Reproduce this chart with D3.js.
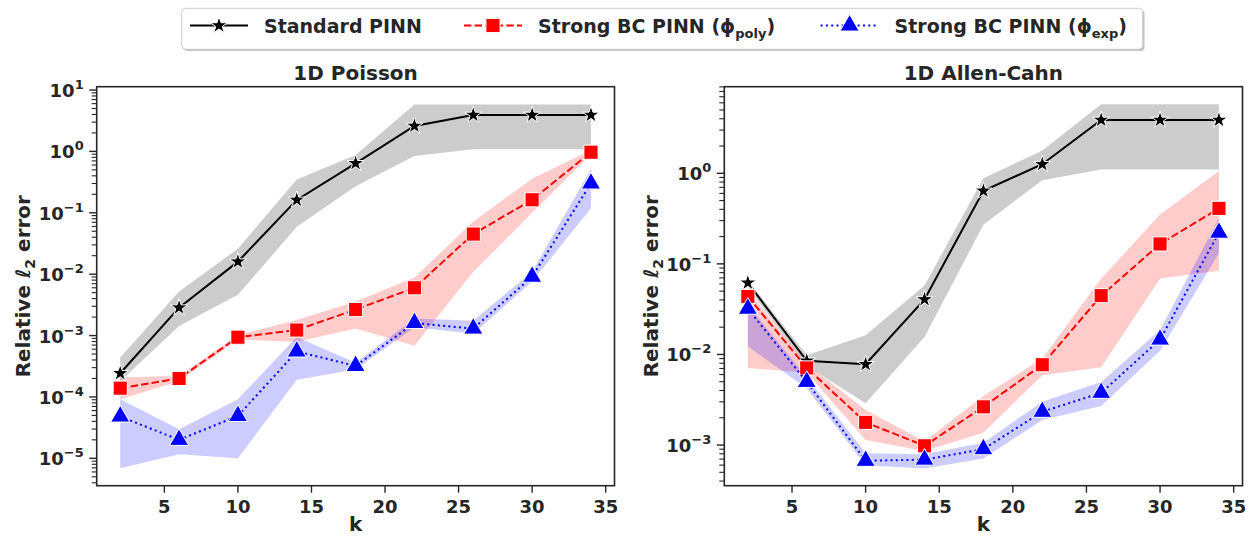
<!DOCTYPE html>
<html><head><meta charset="utf-8">
<script src="https://cdn.jsdelivr.net/npm/d3@7"></script>
<style>body{margin:0;background:#fff}svg{display:block}text{font-family:"DejaVu Sans";font-weight:bold;fill:#262626}</style>
</head><body><svg id="c" width="1249" height="537"></svg>
<script>
const k = [2,6,10,14,18,22,26,30,34];
const xTicks = [5,10,15,20,25,30,35];
const titles = ["1D Poisson","1D Allen-Cahn"];
const seriesNames = ["Standard PINN","Strong BC PINN (ϕ","Strong BC PINN (ϕ"];
const seriesSubs = ["","poly","exp"];

// 1D Poisson
const poisStd   = [2.43e-4, 2.85e-3, 0.016, 0.162, 0.64, 2.6, 3.92, 3.92, 3.92];
const poisStdLo = [1.8e-4, 1.43e-3, 4.6e-3, 0.059, 0.27, 0.84, 1.08, 1.08, 1.08];
const poisStdHi = [4.4e-4, 5.2e-3, 0.026, 0.35, 0.87, 5.8, 5.8, 5.8, 5.8];
const poisPoly   = [1.39e-4, 2.0e-4, 9.4e-4, 1.23e-3, 2.65e-3, 6.0e-3, 0.045, 0.163, 0.97];
const poisPolyLo = [9.2e-5, 1.8e-4, 8.6e-4, 7.9e-4, 1.3e-3, 6.8e-4, 0.011, 0.1, 0.9];
const poisPolyHi = [2.1e-4, 2.2e-4, 1.02e-3, 1.8e-3, 3.6e-3, 8.8e-3, 0.072, 0.36, 1.05];
const poisExp   = [4.8e-5, 2.0e-5, 4.9e-5, 5.5e-4, 3.2e-4, 1.6e-3, 1.3e-3, 9.1e-3, 0.3];
const poisExpLo = [6.9e-6, 1.17e-5, 1.0e-5, 1.9e-4, 2.8e-4, 1.36e-3, 1.07e-3, 7.6e-3, 0.118];
const poisExpHi = [9.2e-5, 2.98e-5, 9.2e-5, 9.5e-4, 3.6e-4, 1.9e-3, 1.75e-3, 0.011, 0.51];

// 1D Allen-Cahn
const acStd   = [0.0618, 8.5e-3, 7.8e-3, 0.0405, 0.64, 1.26, 3.88, 3.88, 3.88];
const acStdLo = [0.055, 7.5e-3, 2.9e-3, 0.0156, 0.27, 0.84, 1.1, 1.1, 1.1];
const acStdHi = [0.066, 9.8e-3, 0.0163, 0.0578, 0.88, 1.78, 5.8, 5.8, 5.8];
const acPoly   = [0.0437, 7.1e-3, 1.78e-3, 9.8e-4, 2.64e-3, 7.7e-3, 0.0446, 0.166, 0.41];
const acPolyLo = [7.1e-3, 6.3e-3, 1.14e-3, 8.6e-4, 1.37e-3, 5.9e-3, 7.2e-3, 0.069, 0.084];
const acPolyHi = [0.051, 7.9e-3, 2.43e-3, 1.1e-3, 3.47e-3, 9.0e-3, 0.069, 0.35, 1.06];
const acExp   = [0.032, 4.98e-3, 6.7e-4, 6.9e-4, 9.0e-4, 2.33e-3, 3.77e-3, 0.0146, 0.221];
const acExpLo = [0.0123, 4.2e-3, 6.0e-4, 5.5e-4, 7.1e-4, 1.89e-3, 2.69e-3, 0.011, 0.131];
const acExpHi = [0.035, 5.6e-3, 8.1e-4, 7.9e-4, 1.06e-3, 3.0e-3, 4.98e-3, 0.0186, 0.32];

const styles = [
  {color:"#000000", dash:null, sym:d3.symbolStar, size:90},
  {color:"#ff0000", dash:"7.4,3.2", sym:d3.symbolSquare, size:200},
  {color:"#0000ff", dash:"2,3.3", sym:d3.symbolTriangle, size:160}
];

const svg = d3.select("#c");
const TOP = 86.7, BOT = 485.7;

function panel(x0, x1, yDomain, yTickExps, title, series) {
  const x = d3.scaleLinear().domain([0.4, 35.6]).range([x0, x1]);
  const y = d3.scaleLog().domain(yDomain).range([BOT, TOP]);
  const g = svg.append("g");
  series.forEach((s, i) => {
    const st = styles[i];
    const area = d3.area().x((d,j)=>x(k[j])).y0((d,j)=>y(s.lo[j])).y1((d,j)=>y(s.hi[j]));
    g.append("path").attr("d", area(s.v)).attr("fill", st.color).attr("fill-opacity", 0.2).attr("stroke","none");
  });
  series.forEach((s, i) => {
    const st = styles[i];
    const line = d3.line().x((d,j)=>x(k[j])).y(d=>y(d));
    g.append("path").attr("d", line(s.v)).attr("fill","none").attr("stroke", st.color)
      .attr("stroke-width", 2).attr("stroke-dasharray", st.dash);
    g.selectAll(null).data(s.v).enter().append("path")
      .attr("d", d3.symbol().type(st.sym).size(st.size))
      .attr("transform", (d,j)=>`translate(${x(k[j])},${y(d)})`)
      .attr("fill", st.color).attr("stroke","#fff").attr("stroke-width",1);
  });
  // spines
  g.append("rect").attr("x", x0).attr("y", TOP).attr("width", x1-x0).attr("height", BOT-TOP)
    .attr("fill","none").attr("stroke","#262626").attr("stroke-width",1.6);
  // x ticks
  xTicks.forEach(t => {
    g.append("line").attr("x1",x(t)).attr("x2",x(t)).attr("y1",BOT).attr("y2",BOT+7)
      .attr("stroke","#262626").attr("stroke-width",1.4);
    g.append("text").attr("x",x(t)).attr("y",512.5).attr("text-anchor","middle")
      .attr("font-size",18).text(t);
  });
  g.append("text").attr("x",(x0+x1)/2).attr("y",531).attr("text-anchor","middle").attr("font-size",20).text("k");
  // y minor ticks
  const lo = Math.floor(Math.log10(yDomain[0])), hi = Math.ceil(Math.log10(yDomain[1]));
  for (let e = lo; e <= hi; e++) for (let m = 2; m <= 9; m++) {
    const v = m * Math.pow(10, e);
    if (v < yDomain[0] || v > yDomain[1]) continue;
    g.append("line").attr("x1",x0-5).attr("x2",x0).attr("y1",y(v)).attr("y2",y(v))
      .attr("stroke","#262626").attr("stroke-width",1.1);
  }
  yTickExps.forEach(e => {
    const v = Math.pow(10, e);
    g.append("line").attr("x1",x0-7.5).attr("x2",x0).attr("y1",y(v)).attr("y2",y(v))
      .attr("stroke","#262626").attr("stroke-width",1.4);
    const t = g.append("text").attr("x",x0-13).attr("y",y(v)+7).attr("text-anchor","end").attr("font-size",18);
    t.append("tspan").text("10");
    t.append("tspan").attr("dy",-8).attr("font-size",13).text(e < 0 ? "\u2212" + (-e) : String(e));
  });
  // y label
  const yl = g.append("text").attr("transform",`translate(${x0-66.5},${(TOP+BOT)/2}) rotate(-90)`)
    .attr("text-anchor","middle").attr("font-size",20);
  yl.append("tspan").text("Relative ");
  yl.append("tspan").attr("font-style","italic").text("ℓ");
  yl.append("tspan").attr("dy",5).attr("font-size",14).text("2");
  yl.append("tspan").attr("dy",-5).text(" error");
  g.append("text").attr("x",(x0+x1)/2).attr("y",80).attr("text-anchor","middle").attr("font-size",20).text(title);
}

panel(96.7, 614.5, [Math.pow(10,-5.446), Math.pow(10,1.054)], [-5,-4,-3,-2,-1,0,1], titles[0], [
  {v:poisStd, lo:poisStdLo, hi:poisStdHi},
  {v:poisPoly, lo:poisPolyLo, hi:poisPolyHi},
  {v:poisExp, lo:poisExpLo, hi:poisExpHi}]);
panel(724.3, 1242.5, [Math.pow(10,-3.449), Math.pow(10,0.956)], [-3,-2,-1,0], titles[1], [
  {v:acStd, lo:acStdLo, hi:acStdHi},
  {v:acPoly, lo:acPolyLo, hi:acPolyHi},
  {v:acExp, lo:acExpLo, hi:acExpHi}]);

// legend
const lg = svg.append("g");
lg.append("rect").attr("x",183.5).attr("y",10).attr("width",961).attr("height",41).attr("rx",4)
  .attr("fill","#999").attr("fill-opacity",0.6);
lg.append("rect").attr("x",181.7).attr("y",8.3).attr("width",961).attr("height",41).attr("rx",4)
  .attr("fill","#fff").attr("stroke","#cccccc").attr("stroke-width",1);
const legX = [190, 464, 820.6];
seriesNames.forEach((n, i) => {
  const st = styles[i], xs = legX[i], yc = 25.5;
  lg.append("line").attr("x1",xs).attr("x2",xs+58).attr("y1",yc).attr("y2",yc)
    .attr("stroke",st.color).attr("stroke-width",2).attr("stroke-dasharray",st.dash);
  lg.append("path").attr("d", d3.symbol().type(st.sym).size(st.size))
    .attr("transform",`translate(${xs+29},${yc})`).attr("fill",st.color).attr("stroke","#fff").attr("stroke-width",1);
  const t = lg.append("text").attr("x", xs+74).attr("y", yc+7).attr("font-size",19);
  t.append("tspan").text(n);
  if (seriesSubs[i]) {
    t.append("tspan").attr("dy",5).attr("font-size",13).text(seriesSubs[i]);
    t.append("tspan").attr("dy",-5).text(")");
  }
});
</script></body></html>
